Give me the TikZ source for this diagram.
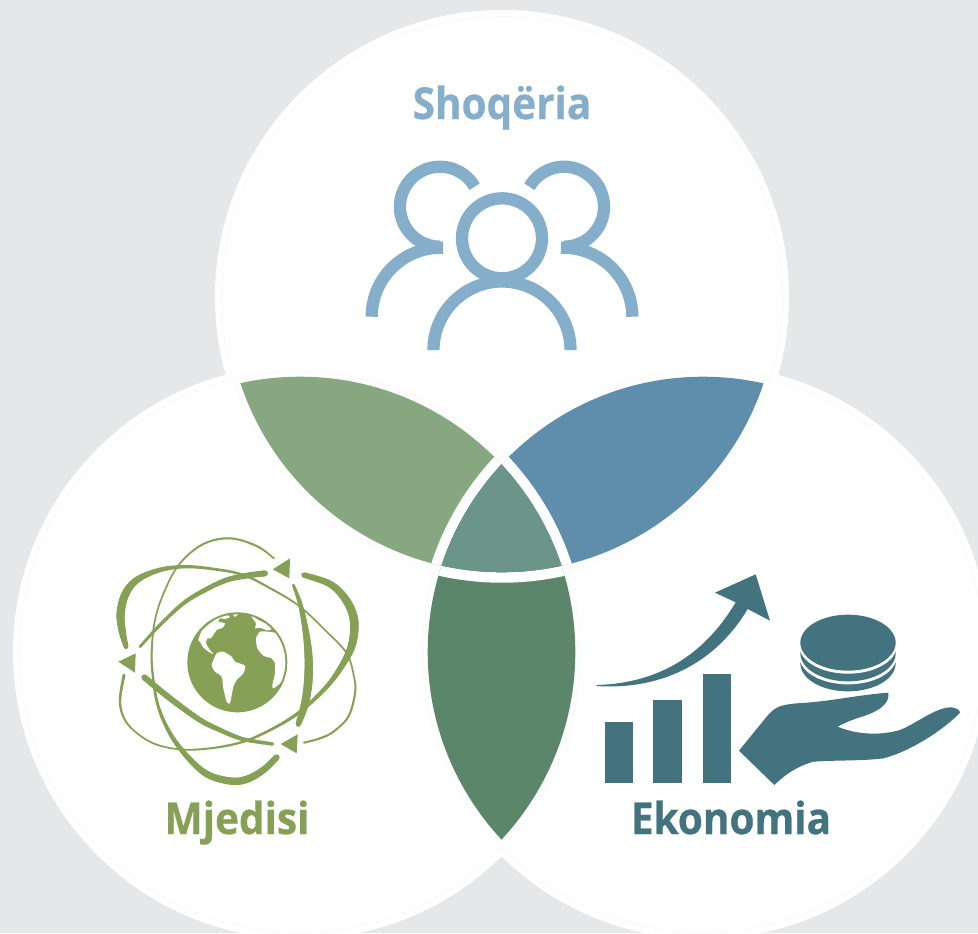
\documentclass[tikz,border=0pt]{standalone}
\usepackage{fontspec}
\setmainfont{Open Sans}[FakeStretch=0.92,BoldFeatures={FakeBold=0.6}]
\definecolor{bgc}{HTML}{E6E7E9}
\definecolor{ringc}{HTML}{F8F8F8}
\definecolor{lensTL}{HTML}{87A781}
\definecolor{lensTR}{HTML}{5E8EAB}
\definecolor{lensLR}{HTML}{5C8669}
\definecolor{lensC}{HTML}{6B9589}
\definecolor{socc}{HTML}{85AECB}
\definecolor{envc}{HTML}{86A155}
\definecolor{ecoc}{HTML}{42737E}
\tikzset{
  disc/.style={fill=white},
  faintring/.style={draw=ringc,line width=0.5pt},
  gap/.style={draw=white,line width=7.8pt},
  lens/.style={fill=#1},
  person/.style={draw=socc,line width=9.2pt},
  title/.style={anchor=base,font=\bfseries\fontsize{33}{38}\selectfont,inner sep=0pt},
  declare function={crom(\a,\b,\c,\d,\t)=0.5*(2*\b+(\c-\a)*\t+(2*\a-5*\b+4*\c-\d)*\t*\t+(3*\b-\a-3*\c+\d)*\t*\t*\t);},
}
% tapered smooth stroke: #1 xs, #2 ys, #3 widths, #4 last index
\newcommand\taperstroke[4]{%
  \pgfmathtruncatemacro\tplast{#4-1}%
  \foreach \i in {0,...,\tplast}{%
    \pgfmathtruncatemacro\ia{max(\i-1,0)}%
    \pgfmathtruncatemacro\ic{\i+1}%
    \pgfmathtruncatemacro\id{min(\i+2,#4)}%
    \pgfmathsetmacro\xa{{#1}[\ia]}\pgfmathsetmacro\xb{{#1}[\i]}\pgfmathsetmacro\xc{{#1}[\ic]}\pgfmathsetmacro\xd{{#1}[\id]}%
    \pgfmathsetmacro\ya{{#2}[\ia]}\pgfmathsetmacro\yb{{#2}[\i]}\pgfmathsetmacro\yc{{#2}[\ic]}\pgfmathsetmacro\yd{{#2}[\id]}%
    \pgfmathsetmacro\wb{{#3}[\i]}\pgfmathsetmacro\wc{{#3}[\ic]}%
    \foreach \s in {0,...,7}{%
      \pgfmathsetmacro\tu{\s/8}\pgfmathsetmacro\tv{(\s+1)/8}%
      \pgfmathsetmacro\xu{crom(\xa,\xb,\xc,\xd,\tu)}\pgfmathsetmacro\yu{crom(\ya,\yb,\yc,\yd,\tu)}%
      \pgfmathsetmacro\xv{crom(\xa,\xb,\xc,\xd,\tv)}\pgfmathsetmacro\yv{crom(\ya,\yb,\yc,\yd,\tv)}%
      \pgfmathsetmacro\lw{0.25*(\wb+(\wc-\wb)*(\tu+0.0625))}%
      \draw[envc,line cap=round,line width=\lw pt] (\xu,\yu) -- (\xv,\yv);
    }%
  }%
}
\begin{document}
\begin{tikzpicture}[x=0.75pt,y=0.75pt,yscale=-1]
\useasboundingbox (0,0) rectangle (978,933);
\clip (0,0) rectangle (978,933);
\fill[bgc] (0,0) rectangle (978,933);
\coordinate (T) at (502,297);
\coordinate (L) at (300,652);
\coordinate (R) at (703,652);
% circles
\fill[disc] (T) circle (287);
\fill[disc] (L) circle (287);
\fill[disc] (R) circle (287);
\draw[faintring] (T) circle (280.5);
\draw[faintring] (L) circle (280.5);
\draw[faintring] (R) circle (280.5);
% lenses
\begin{scope}
  \clip (T) circle (275.3);
  \clip (L) circle (275.3);
  \fill[lens=lensTL] (0,0) rectangle (978,933);
  \draw[gap] (R) circle (280.5);
\end{scope}
\begin{scope}
  \clip (T) circle (275.3);
  \clip (R) circle (275.3);
  \fill[lens=lensTR] (0,0) rectangle (978,933);
  \draw[gap] (L) circle (280.5);
\end{scope}
\begin{scope}
  \clip (L) circle (275.3);
  \clip (R) circle (275.3);
  \fill[lens=lensLR] (0,0) rectangle (978,933);
  \draw[gap] (T) circle (280.5);
\end{scope}
\begin{scope}
  \clip (T) circle (275.3);
  \clip (L) circle (275.3);
  \clip (R) circle (275.3);
  \fill[lens=lensC] (0,0) rectangle (978,933);
\end{scope}
% titles
\node[title,text=socc] (soc) at (502,119) {Shoqëria};
\node[title,text=envc] (env) at (237,834) {Mjedisi};
\node[title,text=ecoc] (eco) at (731,834) {Ekonomia};
% people icon
\draw[person] (502,238.3) circle (40);
\draw[person] (433.5,347.7) -- (433.5,350) arc[start angle=180,end angle=360,radius=68.5] -- (570.5,347.7);
\draw[person] (474.6,186.7) arc[start angle=-30,end angle=-270,radius=40] (371.7,316.7) arc[start angle=180,end angle=272,radius=69];
\draw[person] (529.4,186.7) arc[start angle=210,end angle=450,radius=40] (632.3,316.7) arc[start angle=0,end angle=-92,radius=69];
% orbits
\begin{scope}[shift={(100,520)},x=0.25pt,y=0.25pt]
  \taperstroke{522,470,390,310,240,195,165,155,160,175,210,260,320,390,440,490,530}{115,78,55,72,130,210,300,400,480,560,640,708,762,783,778,750,712}{5,6,6,6,5,5,5,6,7,9,12,16,20,22,22,20,18}{16}
  \taperstroke{580,600,615,625,625,615,595}{195,250,320,400,480,550,612}{8,13,18,24,26,24,16}{6}
  \taperstroke{612,690,738,762,757,730,680,600,520,430,330,240,160,100,70,60,72}{165,192,240,300,370,430,500,575,625,665,685,688,670,630,590,540,465}{16,20,24,26,24,18,13,10,8,7,6,5,5,5,6,7,9}{16}
  \taperstroke{78,66,62,75,108,172,250,340,430,520,600,680,740,762,765,745,700,660,612}{380,330,280,225,182,152,140,147,165,210,260,335,400,470,520,590,635,655,668}{14,22,25,24,20,14,10,8,7,6,5,5,5,5,6,6,6,6,6}{18}
  \taperstroke{120,180,250,315,380,440,495}{380,315,250,210,180,167,160}{8,10,12,14,15,17,18}{6}
  \taperstroke{133,210,300,360,420,470,518}{472,535,600,630,655,665,672}{18,18,16,14,12,11,10}{6}
  \fill[envc] (518,148) -- (570,115) -- (568,175) -- cycle;
  \fill[envc] (55,425) -- (107,400) -- (105,458) -- cycle;
  \fill[envc] (542,672) -- (593,643) -- (590,700) -- cycle;
\end{scope}
% globe
\begin{scope}[shift={(180,605)},x=0.25pt,y=0.25pt]
  \coordinate (G) at (172,172);
  \fill[envc] (G) circle (150);
  \begin{scope}
    \clip (G) circle (144);
    \fill[white] plot[smooth cycle,tension=0.35] coordinates {(55,105)(65,78)(90,55)(115,38)(140,30)(150,36)(135,42)(120,40)(115,50)(135,55)(128,68)(110,75)(100,90)(92,100)(82,100)(78,115)(90,135)(100,147)(85,140)(68,125)(60,110)};
    \fill[white] (155,25) -- (178,25) -- (165,36) -- cycle;
    \fill[white] plot[smooth cycle,tension=0.35] coordinates {(213,32)(235,45)(255,55)(275,72)(262,76)(240,68)(225,70)(228,55)};
    \fill[white] plot[smooth cycle,tension=0.35] coordinates {(228,100)(240,80)(265,80)(290,85)(310,105)(325,140)(330,175)(322,205)(300,235)(280,250)(277,240)(285,205)(285,175)(275,160)(250,152)(232,130)};
    \fill[white] plot[smooth cycle,tension=0.35] coordinates {(95,180)(110,145)(130,140)(155,155)(165,170)(195,182)(190,205)(170,225)(160,245)(150,295)(140,290)(130,250)(125,215)(105,200)};
  \end{scope}
\end{scope}
% economy icon
\begin{scope}[shift={(590,560)},x=0.25pt,y=0.25pt]
  \fill[ecoc] (45,487) rectangle (130,668);
  \fill[ecoc] (190,420) rectangle (275,668);
  \fill[ecoc] (338,343) rectangle (423,668);
  \fill[ecoc] (20,375) .. controls (200,370) and (340,290) .. (437,127) -- (375,98) -- (497,43) -- (540,182) -- (473,147) .. controls (370,320) and (200,390) .. (20,378) -- cycle;
  \fill[ecoc] (774,310) ellipse (143 and 84);
  \fill[white] (774,289) ellipse (146 and 84);
  \fill[ecoc] (774,280) ellipse (143 and 84);
  \fill[white] (774,257) ellipse (146 and 84);
  \fill[ecoc] (774,248) ellipse (143 and 84);
  \fill[ecoc] (447,572) -- (530,470) .. controls (555,440) and (570,435) .. (620,430) .. controls (720,425) and (800,405) .. (895,398) .. controls (900,430) and (870,455) .. (800,475) .. controls (780,482) and (760,490) .. (743,500) .. controls (790,520) and (860,530) .. (930,510) .. controls (980,490) and (1040,440) .. (1085,442) .. controls (1100,445) and (1110,450) .. (1110,458) .. controls (1060,510) and (960,575) .. (880,595) .. controls (820,603) and (740,600) .. (670,605) .. controls (620,620) and (590,640) .. (553,675) -- cycle;
\end{scope}
\end{tikzpicture}
\end{document}
